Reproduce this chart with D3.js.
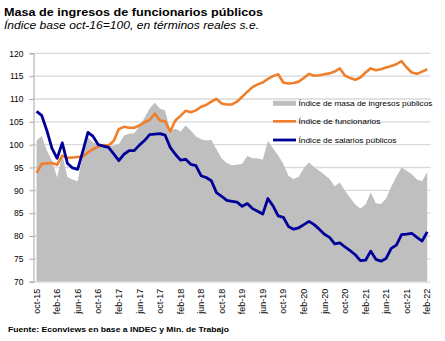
<!DOCTYPE html>
<html><head><meta charset="utf-8">
<script src="https://cdn.jsdelivr.net/npm/d3@7"></script>
<style>body{margin:0;background:#fff}svg{display:block}</style>
</head><body>
<svg id="c" width="445" height="341"></svg>
<script>
const categories = ["oct-15","nov-15","dic-15",
"ene-16","feb-16","mar-16","abr-16","may-16","jun-16","jul-16","ago-16","sep-16","oct-16","nov-16","dic-16",
"ene-17","feb-17","mar-17","abr-17","may-17","jun-17","jul-17","ago-17","sep-17","oct-17","nov-17","dic-17",
"ene-18","feb-18","mar-18","abr-18","may-18","jun-18","jul-18","ago-18","sep-18","oct-18","nov-18","dic-18",
"ene-19","feb-19","mar-19","abr-19","may-19","jun-19","jul-19","ago-19","sep-19","oct-19","nov-19","dic-19",
"ene-20","feb-20","mar-20","abr-20","may-20","jun-20","jul-20","ago-20","sep-20","oct-20","nov-20","dic-20",
"ene-21","feb-21","mar-21","abr-21","may-21","jun-21","jul-21","ago-21","sep-21","oct-21","nov-21","dic-21",
"ene-22","feb-22"];
const tickLabels = ["oct-15","feb-16","jun-16","oct-16","feb-17","jun-17","oct-17","feb-18","jun-18","oct-18",
"feb-19","jun-19","oct-19","feb-20","jun-20","oct-20","feb-21","jun-21","oct-21","feb-22"];
const yTicks = [70,75,80,85,90,95,100,105,110,115,120];
const masa = [100.9,101.9,98.7,96.5,92.8,97.9,92.9,92.4,92.0,97.9,
101.6,100.5,100.0,99.5,99.7,99.8,100.1,102.0,102.4,102.5,
104.0,105.9,107.9,109.2,107.9,107.5,103.1,103.5,102.9,104.2,
103.1,101.8,101.2,100.9,101.0,99.0,97.0,96.0,95.5,95.6,
95.8,97.5,97.0,97.0,96.7,100.8,99.2,97.6,95.8,93.2,
92.5,93.0,94.9,96.1,95.1,94.3,93.4,92.5,90.9,91.7,
89.9,88.4,86.9,86.0,86.9,89.5,87.2,87.0,88.2,90.8,
93.0,95.0,94.3,93.5,92.4,92.0,94.0];
const funcionarios = [93.8,95.8,95.9,96.0,95.6,97.6,97.1,97.2,97.3,97.4,
98.3,99.0,99.6,99.9,99.8,100.8,103.4,103.9,103.7,103.7,
104.2,104.9,105.4,106.8,105.3,105.1,102.9,105.3,106.3,107.4,
107.1,107.5,108.3,108.7,109.4,110.0,109.0,108.8,108.8,109.4,
110.5,111.6,112.6,113.2,113.6,114.4,115.0,115.4,113.6,113.4,
113.5,113.8,114.6,115.5,115.1,115.2,115.4,115.6,116.0,116.7,
115.1,114.6,114.2,114.7,115.8,116.7,116.3,116.5,116.9,117.2,
117.6,118.3,116.9,115.8,115.5,116.0,116.5];
const salarios = [107.3,106.4,103.1,99.2,97.0,100.4,95.9,94.9,94.6,98.6,
102.7,101.8,100.0,99.7,99.4,98.0,96.5,97.9,98.7,98.7,
99.9,100.9,102.2,102.3,102.4,102.1,99.4,97.9,96.6,96.8,
95.7,95.4,93.2,92.8,92.1,89.5,88.7,87.8,87.6,87.4,
86.5,87.1,86.0,85.4,84.8,88.2,86.6,84.4,84.1,82.1,
81.5,81.8,82.5,83.2,82.5,81.5,80.4,79.7,78.3,78.5,
77.6,76.8,75.9,74.6,74.7,76.7,74.9,74.5,75.1,77.3,
78.0,80.3,80.4,80.6,79.7,78.9,80.9];
const seriesNames = ["Índice de masa de ingresos públicos","Índice de funcionarios","Índice de salarios públicos"];
const title = "Masa de ingresos de funcionarios públicos";
const subtitle = "Índice base oct-16=100, en términos reales s.e.";
const source = "Fuente: Econviews en base a INDEC y Min. de Trabajo";

const colGray = "#bfbfbf", colOrange = "#f07f2c", colBlue = "#000099";
const FONT = "'Liberation Sans', Arial, sans-serif";
const svg = d3.select("#c");
const L = 33.5, R = 430.5, T = 53.3, B = 281.7;

const x = d3.scaleBand().domain(categories).range([34.0, 429.8]);
const cx = d => x(d) + x.bandwidth()/2;
const y = d3.scaleLinear().domain([70,120]).range([B, T]);

function fit(sel, w){ sel.attr("textLength", w).attr("lengthAdjust","spacingAndGlyphs"); return sel; }

// title
fit(svg.append("text").attr("x",4).attr("y",15.7).attr("font-family",FONT).attr("font-weight","bold")
  .attr("font-size",11.5).attr("fill","#000").text(title), 259);
fit(svg.append("text").attr("x",4).attr("y",29.3).attr("font-family",FONT).attr("font-style","italic")
  .attr("font-size",10.5).attr("fill","#000").text(subtitle), 255);

// gridlines
svg.append("g").selectAll("line").data(yTicks.filter(v=>v>70)).join("line")
  .attr("x1",L).attr("x2",R).attr("y1",d=>y(d)).attr("y2",d=>y(d))
  .attr("stroke","#d9d9d9").attr("stroke-width",1.3);

// area
const area = d3.area().x((d,i)=>cx(categories[i])).y0(y(70)).y1(d=>y(d));
svg.append("path").datum(masa).attr("d",area).attr("fill",colGray);

// x axis line
svg.append("line").attr("x1",L).attr("x2",R).attr("y1",B+0.5).attr("y2",B+0.5)
  .attr("stroke","#d9d9d9").attr("stroke-width",1.3);

// y axis
const yAxis = d3.axisLeft(y).tickValues(yTicks).tickSize(4).tickPadding(6).tickFormat(d3.format("d"));
const gy = svg.append("g").attr("transform",`translate(${L},0)`).call(yAxis);
gy.select(".domain").attr("stroke","#a6a6a6");
gy.selectAll(".tick line").attr("stroke","#a6a6a6");
gy.selectAll("text").attr("font-family",FONT).attr("font-size",8.5).attr("fill","#000");

// x axis labels
const xAxis = d3.axisBottom(x).tickValues(tickLabels).tickSize(0).tickPadding(0);
const gx = svg.append("g").attr("transform",`translate(0,${B})`).call(xAxis);
gx.select(".domain").remove();
gx.selectAll("text").attr("font-family",FONT).attr("font-size",9).attr("fill","#000")
  .attr("transform","translate(0,7) rotate(-90)").attr("text-anchor","end").attr("dy","0.35em").attr("y",0).attr("x",0);

// lines
const line = d3.line().x((d,i)=>cx(categories[i])).y(d=>y(d));
svg.append("path").datum(funcionarios).attr("d",line).attr("fill","none")
  .attr("stroke",colOrange).attr("stroke-width",2.6).attr("stroke-linejoin","round");
svg.append("path").datum(salarios).attr("d",line).attr("fill","none")
  .attr("stroke",colBlue).attr("stroke-width",2.8).attr("stroke-linejoin","round");

// legend
const lg = svg.append("g");
const legY = [103.3, 121.3, 140];
const legW = [134, 82, 98];
lg.append("rect").attr("x",273).attr("y",legY[0]-2.5).attr("width",23).attr("height",5).attr("fill",colGray);
lg.append("line").attr("x1",273).attr("x2",296).attr("y1",legY[1]).attr("y2",legY[1]).attr("stroke",colOrange).attr("stroke-width",2.6);
lg.append("line").attr("x1",273).attr("x2",296).attr("y1",legY[2]).attr("y2",legY[2]).attr("stroke",colBlue).attr("stroke-width",2.8);
seriesNames.forEach((n,i)=>{
  fit(lg.append("text").attr("x",298.5).attr("y",legY[i]).attr("dy","0.35em").attr("font-family",FONT)
    .attr("font-size",8).attr("fill","#000").text(n), legW[i]);
});

// source
fit(svg.append("text").attr("x",8).attr("y",332).attr("font-family",FONT).attr("font-weight","bold")
  .attr("font-size",7).attr("fill","#000").text(source), 221);
</script>
</body></html>
